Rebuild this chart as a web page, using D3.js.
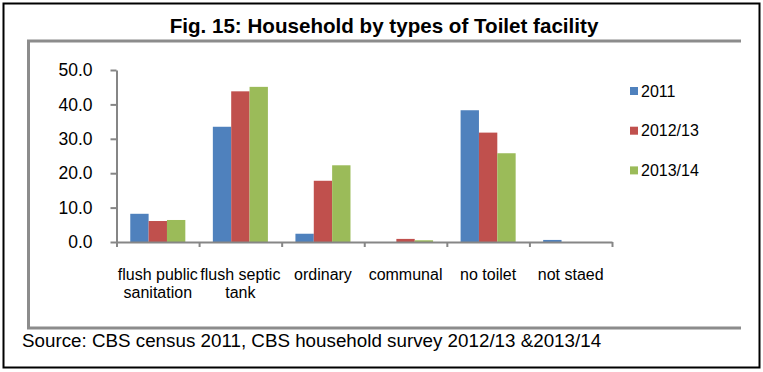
<!DOCTYPE html>
<meta charset="utf-8">
<style>
body { margin: 0; background: #fff; }
svg { font-family: "Liberation Sans", Arial, sans-serif; }
.axis path, .axis line { stroke: #868686; stroke-width: 2; }
.axis text { fill: #000; font-size: 16px; }
</style>
<svg width="763" height="372"></svg>
<script src="https://d3js.org/d3.v7.min.js"></script>
<script>

var categories = ["flush public|sanitation", "flush septic|tank", "ordinary", "communal", "no toilet", "not staed"];
var seriesNames = ["2011", "2012/13", "2013/14"];
var v2011 = [8.2, 33.5, 2.4, 0.0, 38.3, 0.6];
var v2012 = [6.1, 43.8, 17.8, 0.9, 31.8, 0.0];
var v2013 = [6.4, 45.1, 22.3, 0.5, 25.8, 0.0];
var yTicks = [0, 10, 20, 30, 40, 50];
var colors = ["#4f81bd", "#c0504d", "#9bbb59"];

var svg = d3.select("svg");

// outer black frame
svg.append("rect")
    .attr("x", 3.5).attr("y", 3.5)
    .attr("width", 756).attr("height", 364)
    .attr("fill", "none").attr("stroke", "#000").attr("stroke-width", 2);

// grey chart frame (right side is cut off in the original)
svg.append("path")
    .attr("d", "M741,41 H28.5 V328 H741")
    .attr("fill", "none").attr("stroke", "#8c8c8c").attr("stroke-width", 3);

svg.append("text")
    .attr("x", 384).attr("y", 33)
    .attr("text-anchor", "middle")
    .style("font-weight", "bold").style("font-size", "20.6px")
    .text("Fig. 15: Household by types of Toilet facility");

svg.append("text")
    .attr("x", 22).attr("y", 347)
    .style("font-size", "18.8px")
    .text("Source: CBS census 2011, CBS household survey 2012/13 &2013/14");

var margin = {left: 116.5, right: 612, top: 70, bottom: 242};

var x0 = d3.scaleBand()
    .domain(categories)
    .range([margin.left, margin.right])
    .paddingInner(0).paddingOuter(0);

var x1 = d3.scaleBand()
    .domain(seriesNames)
    .range([x0.bandwidth() / 6, x0.bandwidth() * 5 / 6]);

var y = d3.scaleLinear()
    .domain([0, 50])
    .range([margin.bottom, margin.top]);

var data = categories.map(function(c, i) {
  return {cat: c, vals: [v2011[i], v2012[i], v2013[i]]};
});

var g = svg.append("g");

g.selectAll(".grp")
  .data(data)
  .enter().append("g")
    .attr("class", "grp")
    .attr("transform", function(d) { return "translate(" + x0(d.cat) + ",0)"; })
  .selectAll("rect")
  .data(function(d) { return d.vals.map(function(v, k) { return {k: k, v: v}; }); })
  .enter().append("rect")
    .attr("x", function(d) { return x1(seriesNames[d.k]); })
    .attr("width", x1.bandwidth())
    .attr("y", function(d) { return y(d.v); })
    .attr("height", function(d) { return y(0) - y(d.v); })
    .attr("fill", function(d) { return colors[d.k]; });

// y axis
svg.append("g")
    .attr("class", "axis")
    .attr("transform", "translate(" + margin.left + ",0)")
    .call(d3.axisLeft(y).tickValues(yTicks).tickFormat(d3.format(".1f")).tickSize(6).tickSizeOuter(0).tickPadding(18))
    .selectAll("text").style("font-size", "17.5px");

// x axis line with boundary ticks
var xb = d3.scaleLinear().domain([0, categories.length]).range([margin.left, margin.right]);
svg.append("g")
    .attr("class", "axis")
    .attr("transform", "translate(0," + margin.bottom + ")")
    .call(d3.axisBottom(xb).ticks(categories.length).tickFormat("").tickSize(5).tickSizeOuter(0));

// category labels
var xl = svg.append("g")
    .attr("class", "axis")
    .attr("transform", "translate(0," + margin.bottom + ")")
    .call(d3.axisBottom(x0).tickSize(0).tickFormat(""));
xl.select(".domain").remove();
xl.selectAll(".tick").append("text")
    .attr("text-anchor", "middle")
    .attr("fill", "#000")
    .style("font-size", "16px")
    .selectAll("tspan")
    .data(function(d) { return d.split("|"); })
    .enter().append("tspan")
      .attr("x", 0)
      .attr("y", function(d, i) { return 38 + i * 18; })
      .text(function(d) { return d; });

// legend
var leg = svg.append("g").attr("transform", "translate(630,87)");
seriesNames.forEach(function(s, i) {
  var r = leg.append("g").attr("transform", "translate(0," + i * 39.7 + ")");
  r.append("rect").attr("width", 8).attr("height", 8).attr("fill", colors[i]);
  r.append("text").attr("x", 11).attr("y", 9.5).style("font-size", "16px").text(s);
});

</script>
